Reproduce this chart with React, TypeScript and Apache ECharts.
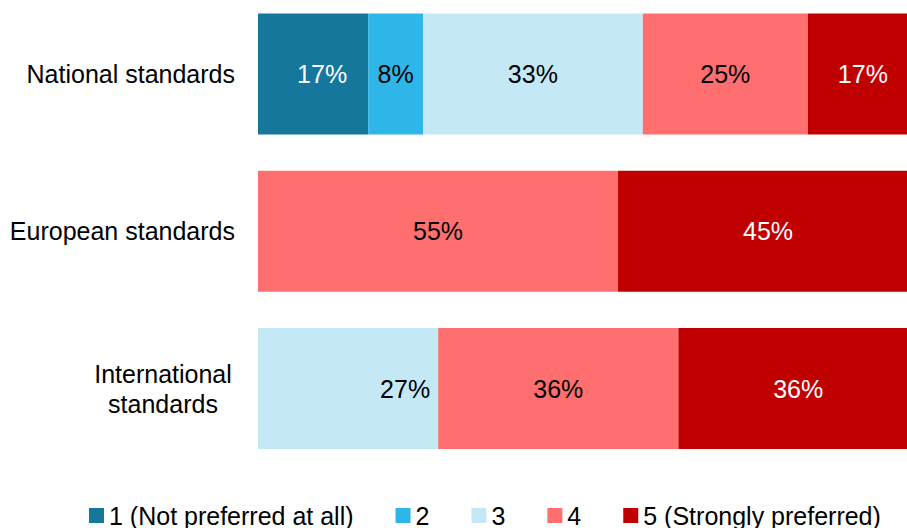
import React, { useEffect, useRef } from "react";
import * as echarts from "echarts";

const categories = ["National standards", "European standards", "International\nstandards"];
const seriesNames = ["1 (Not preferred at all)", "2", "3", "4", "5 (Strongly preferred)"];
const colors = ["#14779B", "#2EB6E8", "#C5E8F7", "#FF6F6F", "#C00000"];
const labelColors = ["#FFFFFF", "#000000", "#000000", "#000000", "#FFFFFF"];
// percentages per category (National, European, International)
const s1 = [16.7, 0, 0];
const s2 = [8.3, 0, 0];
const s3 = [33.3, 0, 27.3];
const s4 = [25.0, 54.55, 36.4];
const s5 = [16.7, 45.45, 36.4];
const seriesValues = [s1, s2, s3, s4, s5];

export default function App() {
  const ref = useRef<HTMLDivElement>(null);
  useEffect(() => {
    if (!ref.current) return;
    const chart = echarts.init(ref.current, undefined, { renderer: "svg" });
    const font = "'Liberation Sans', Arial, sans-serif";
    const labelOffsets: Record<string, number[]> = { "0-0": [9, 0], "2-2": [57, 0] };
    chart.setOption({
      animation: false,
      backgroundColor: "#ffffff",
      grid: { left: 258, width: 660, top: 5.4, height: 471.75, containLabel: false },
      xAxis: { type: "value", min: 0, max: 100, show: false },
      yAxis: {
        type: "category",
        inverse: true,
        data: categories,
        axisLine: { show: false },
        axisTick: { show: false },
        splitLine: { show: false },
        axisLabel: {
          margin: 23,
          fontSize: 25,
          color: "#000",
          fontFamily: font,
          formatter: (v: string) => (v.indexOf("\n") >= 0 ? v.split("\n").map((l) => "{c|" + l + "}").join("\n") : v),
          rich: {
            c: { width: 144, align: "center", fontSize: 25, lineHeight: 30, color: "#000", fontFamily: font },
          },
        },
      },
      legend: {
        left: 84,
        top: 508,
        padding: 5,
        itemWidth: 15,
        itemHeight: 15,
        itemGap: 42,
        icon: "rect",
        textStyle: { fontSize: 25, lineHeight: 25, color: "#000", fontFamily: font },
        data: seriesNames,
      },
      series: seriesNames.map((name, si) => ({
        name,
        type: "bar",
        stack: "total",
        barWidth: 121,
        itemStyle: { color: colors[si] },
        label: {
          show: true,
          position: "inside",
          fontSize: 25,
          fontFamily: font,
          color: labelColors[si],
          formatter: (p: any) => (p.value > 0 ? Math.round(p.value) + "%" : ""),
        },
        data: seriesValues[si].map((v, ci) => {
          const off = labelOffsets[si + "-" + ci];
          return off ? { value: v, label: { offset: off } } : v;
        }),
      })),
    });
    return () => chart.dispose();
  }, []);
  return <div ref={ref} style={{ position: "fixed", left: 0, top: -10, width: 930, height: 540 }} />;
}
